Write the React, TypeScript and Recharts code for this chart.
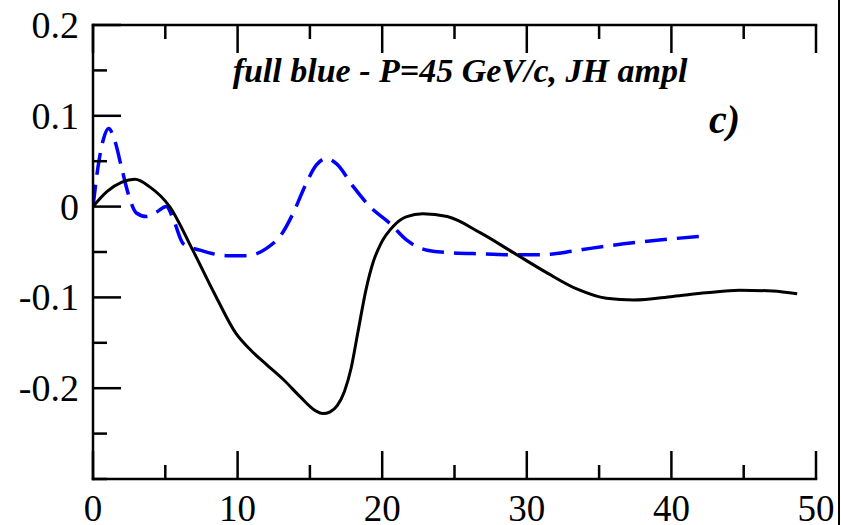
import React from "react";
import { LineChart, Line, XAxis, YAxis, Customized } from "recharts";

// Solid black curve
const blackX = [0, 1, 2, 2.9, 3.9, 5.3, 6.9, 8.5, 9.9, 10.9, 12.0, 13.2, 14.3, 15.4, 15.9, 16.4, 16.9, 17.4, 17.85, 18.3, 18.9, 19.4, 19.9, 20.8, 21.7, 22.8, 24.5, 26.8, 29.1, 31.4, 33.5, 35.5, 37.4, 40.1, 42.4, 44.7, 47.0, 48.7];
const blackY = [0, 0.017, 0.027, 0.030, 0.022, 0, -0.048, -0.099, -0.140, -0.158, -0.174, -0.191, -0.209, -0.225, -0.228, -0.226, -0.219, -0.203, -0.178, -0.140, -0.090, -0.060, -0.041, -0.021, -0.011, -0.008, -0.011, -0.029, -0.051, -0.073, -0.091, -0.101, -0.103, -0.099, -0.095, -0.092, -0.093, -0.096];

// Dashed blue curve
const blueX = [0, 0.35, 0.7, 1.08, 1.5, 1.96, 2.42, 3.0, 3.7, 4.4, 5.07, 5.6, 6.25, 7.4, 8.3, 9.2, 10.6, 12.0, 13.1, 13.85, 14.7, 15.45, 16.15, 16.85, 18.0, 19.15, 20.5, 21.7, 23.1, 24.9, 27.0, 29.1, 31.0, 33.2, 34.4, 36.7, 39.0, 41.9];
const blueY = [0, 0.044, 0.073, 0.086, 0.073, 0.044, 0.015, -0.007, -0.011, -0.006, 0, -0.016, -0.041, -0.048, -0.052, -0.054, -0.054, -0.046, -0.029, -0.007, 0.024, 0.046, 0.053, 0.047, 0.022, 0, -0.018, -0.037, -0.048, -0.051, -0.052, -0.053, -0.053, -0.049, -0.046, -0.041, -0.037, -0.033];

// Axis ticks (major ones carry labels)
const xTicks = [0, 5, 10, 15, 20, 25, 30, 35, 40, 45, 50];
const xMajor = [0, 10, 20, 30, 40, 50];
const yTicks = [-0.3, -0.25, -0.2, -0.15, -0.1, -0.05, 0, 0.05, 0.1, 0.15, 0.2];
const yMajorLabels: Record<string, string> = {
  "0.2": "0.2",
  "0.1": "0.1",
  "0": "0",
  "-0.1": "-0.1",
  "-0.2": "-0.2",
};

const titleText = "full blue - P=45 GeV/c, JH ampl";
const panelText = "c)";

const blackData = blackX.map((x, i) => ({ x, y: blackY[i] }));
const blueData = blueX.map((x, i) => ({ x, y: blueY[i] }));

const FONT = '"Liberation Serif", "Times New Roman", serif';
const MAJOR = 28;
const MINOR = 14;
const SW = 2.5;

const isMajorX = (v: number) => xMajor.some((m) => Math.abs(m - v) < 1e-6);
const yLabel = (v: number) => yMajorLabels[String(Math.round(v * 100) / 100)];

const BottomTick = (p: any) => {
  const v = p.payload.value;
  const major = isMajorX(v);
  return (
    <g>
      <line x1={p.x} x2={p.x} y1={p.y} y2={p.y - (major ? MAJOR : MINOR)} stroke="#000" strokeWidth={SW} />
      {major && (
        <text x={p.x} y={p.y + 42} textAnchor="middle" fontFamily={FONT} fontSize={37} fill="#000">
          {v}
        </text>
      )}
    </g>
  );
};

const TopTick = (p: any) => {
  const major = isMajorX(p.payload.value);
  return <line x1={p.x} x2={p.x} y1={p.y} y2={p.y + (major ? MAJOR : MINOR)} stroke="#000" strokeWidth={SW} />;
};

const LeftTick = (p: any) => {
  const label = yLabel(p.payload.value);
  return (
    <g>
      <line x1={p.x} x2={p.x + (label ? MAJOR : MINOR)} y1={p.y} y2={p.y} stroke="#000" strokeWidth={SW} />
      {label && (
        <text x={p.x - 14} y={p.y} dy="0.34em" textAnchor="end" fontFamily={FONT} fontSize={38} fill="#000">
          {label}
        </text>
      )}
    </g>
  );
};

const RightTick = (p: any) => {
  const label = yLabel(p.payload.value);
  return <line x1={p.x} x2={p.x - (label ? MAJOR : MINOR)} y1={p.y} y2={p.y} stroke="#000" strokeWidth={SW} />;
};

const Annotations = () => (
  <g>
    <text x={460} y={82} textAnchor="middle" fontFamily={FONT} fontSize={34} fontWeight="bold" fontStyle="italic" fill="#000">
      {titleText}
    </text>
    <text x={709} y={133} fontFamily={FONT} fontSize={40} fontWeight="bold" fontStyle="italic" fill="#000">
      {panelText}
    </text>
  </g>
);

const axisLine = { stroke: "#000", strokeWidth: SW, strokeLinecap: "square" as const };

export default function App() {
  return (
    <div style={{ position: "absolute", left: 0, top: 0, width: 841, height: 525, background: "#fff" }}>
      <LineChart width={841} height={525} margin={{ top: 0, right: 25, bottom: 0, left: 0 }}>
        <XAxis
          xAxisId="b"
          dataKey="x"
          type="number"
          domain={[0, 50]}
          ticks={xTicks}
          interval={0}
          height={46}
          tickSize={0}
          tickMargin={0}
          tickLine={false}
          axisLine={axisLine}
          tick={<BottomTick />}
          allowDataOverflow
        />
        <XAxis
          xAxisId="t"
          orientation="top"
          dataKey="x"
          type="number"
          domain={[0, 50]}
          ticks={xTicks}
          interval={0}
          height={25}
          tickSize={0}
          tickMargin={0}
          tickLine={false}
          axisLine={axisLine}
          tick={<TopTick />}
          allowDataOverflow
        />
        <YAxis
          yAxisId="l"
          type="number"
          domain={[-0.3, 0.2]}
          ticks={yTicks}
          interval={0}
          width={93}
          tickSize={0}
          tickMargin={0}
          tickLine={false}
          axisLine={axisLine}
          tick={<LeftTick />}
          allowDataOverflow
        />
        <YAxis
          yAxisId="r"
          orientation="right"
          type="number"
          domain={[-0.3, 0.2]}
          ticks={yTicks}
          interval={0}
          width={0}
          tickSize={0}
          tickMargin={0}
          tickLine={false}
          axisLine={axisLine}
          tick={<RightTick />}
          allowDataOverflow
        />
        <Line
          xAxisId="b"
          yAxisId="l"
          data={blueData}
          dataKey="y"
          type="monotone"
          stroke="#0000ff"
          strokeWidth={3.5}
          strokeDasharray="22 10"
          dot={false}
          activeDot={false}
          isAnimationActive={false}
        />
        <Line
          xAxisId="b"
          yAxisId="l"
          data={blackData}
          dataKey="y"
          type="monotone"
          stroke="#000"
          strokeWidth={3}
          dot={false}
          activeDot={false}
          isAnimationActive={false}
        />
        <Customized component={Annotations} />
      </LineChart>
      <div style={{ position: "absolute", left: 838, top: 0, width: 2, height: 525, background: "#000" }} />
    </div>
  );
}
